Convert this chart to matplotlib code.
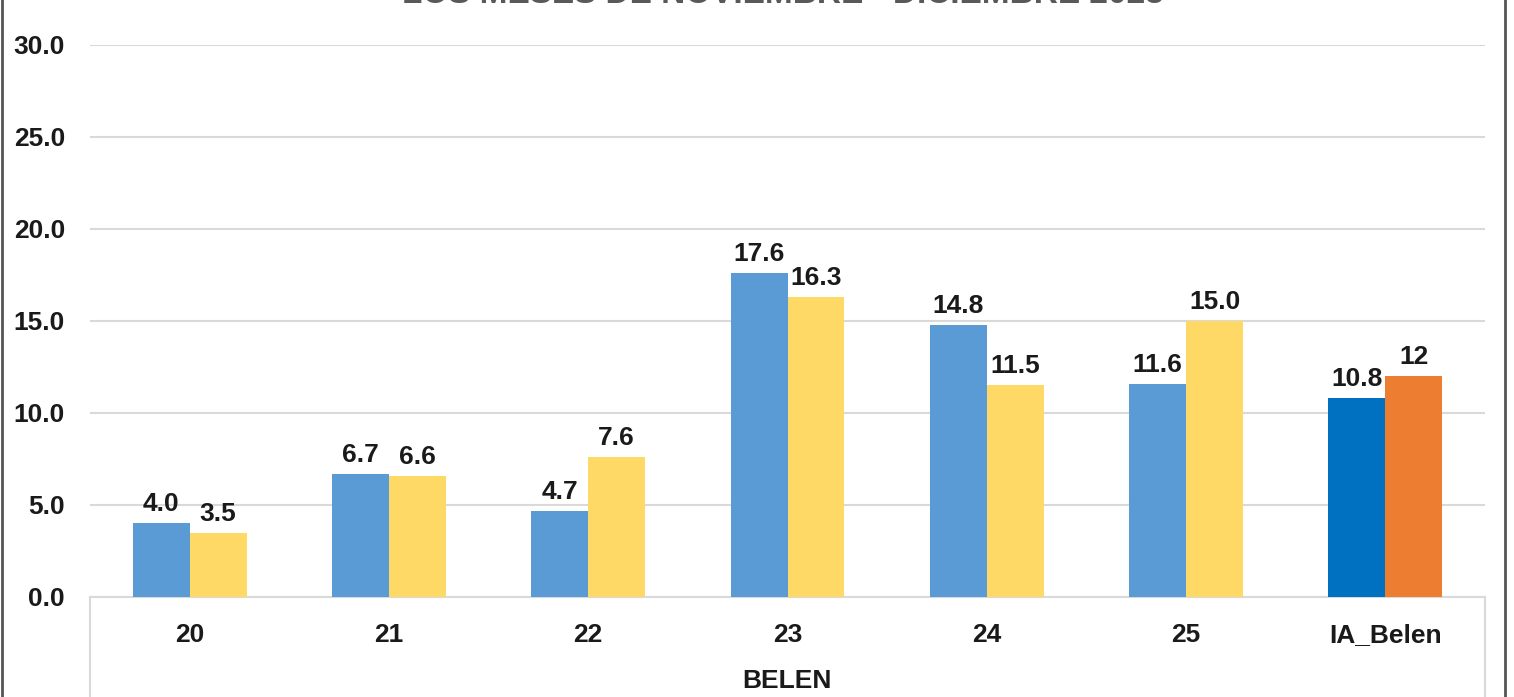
import numpy as np
import matplotlib.pyplot as plt
from matplotlib.lines import Line2D

plt.rcParams['font.family'] = ['Liberation Sans', 'DejaVu Sans']

categories = ['20', '21', '22', '23', '24', '25', 'IA_Belen']
serie_a = [4.0, 6.7, 4.7, 17.6, 14.8, 11.6, 10.8]
serie_b = [3.5, 6.6, 7.6, 16.3, 11.5, 15.0, 12]
yticks = [0, 5, 10, 15, 20, 25, 30]
title = 'LOS MESES DE NOVIEMBRE - DICIEMBRE 2023'
group_label = 'BELEN'

W, H = 1514, 697
fig = plt.figure(figsize=(W / 100, H / 100), dpi=100)
ax = fig.add_axes([90 / W, 100 / H, 1395 / W, 552 / H])

colors_a = ['#5B9BD5'] * 6 + ['#0070C0']
colors_b = ['#FFD966'] * 6 + ['#ED7D31']

x = np.arange(len(categories))
w = 0.286
bars_a = ax.bar(x - w / 2, serie_a, w, color=colors_a, zorder=3)
bars_b = ax.bar(x + w / 2, serie_b, w, color=colors_b, zorder=3)

def fmt(v):
    return str(v) if isinstance(v, int) else f'{v:.1f}'

for bars, vals in [(bars_a, serie_a), (bars_b, serie_b)]:
    for b, v in zip(bars, vals):
        ax.annotate(fmt(v), (b.get_x() + b.get_width() / 2, b.get_height()),
                    xytext=(0, 5), textcoords='offset points',
                    ha='center', va='bottom', fontsize=19,
                    fontweight='bold', color='#1a1a1a')

ax.set_xlim(-0.5, len(categories) - 0.5)
ax.set_ylim(0, 30)
ax.set_yticks(yticks)
ax.set_yticklabels([f'{t:.1f}' for t in yticks])
ax.set_xticks(x)
ax.set_xticklabels(categories)
ax.tick_params(axis='both', length=0, labelsize=19, labelcolor='#1a1a1a')
ax.tick_params(axis='y', pad=18)
ax.tick_params(axis='x', pad=19)
for lab in ax.get_xticklabels() + ax.get_yticklabels():
    lab.set_fontweight('bold')

ax.grid(axis='y', color='#D9D9D9', linewidth=1.5, zorder=0)
for s in ['left', 'right', 'top']:
    ax.spines[s].set_visible(False)
ax.spines['bottom'].set_color('#D9D9D9')
ax.spines['bottom'].set_linewidth(1.5)

# category box lines below the axis
for px in [90, 1485]:
    fig.add_artist(Line2D([px / W, px / W], [0, 100 / H], color='#D9D9D9', lw=1.5))

# outer chart border (left/right)
for px in [2, 1505]:
    fig.add_artist(Line2D([px / W, px / W], [0, 1], color='#555555', lw=2))

fig.text(787 / W, 16 / H, group_label, ha='center', va='center',
         fontsize=19, fontweight='bold', color='#1a1a1a')
# title is cut off at the top edge in the original
fig.text(783 / W, 1 - 3 / H, title, ha='center', va='baseline',
         fontsize=24, fontweight='bold', color='#595959')

fig.savefig('out.png', dpi=100)
